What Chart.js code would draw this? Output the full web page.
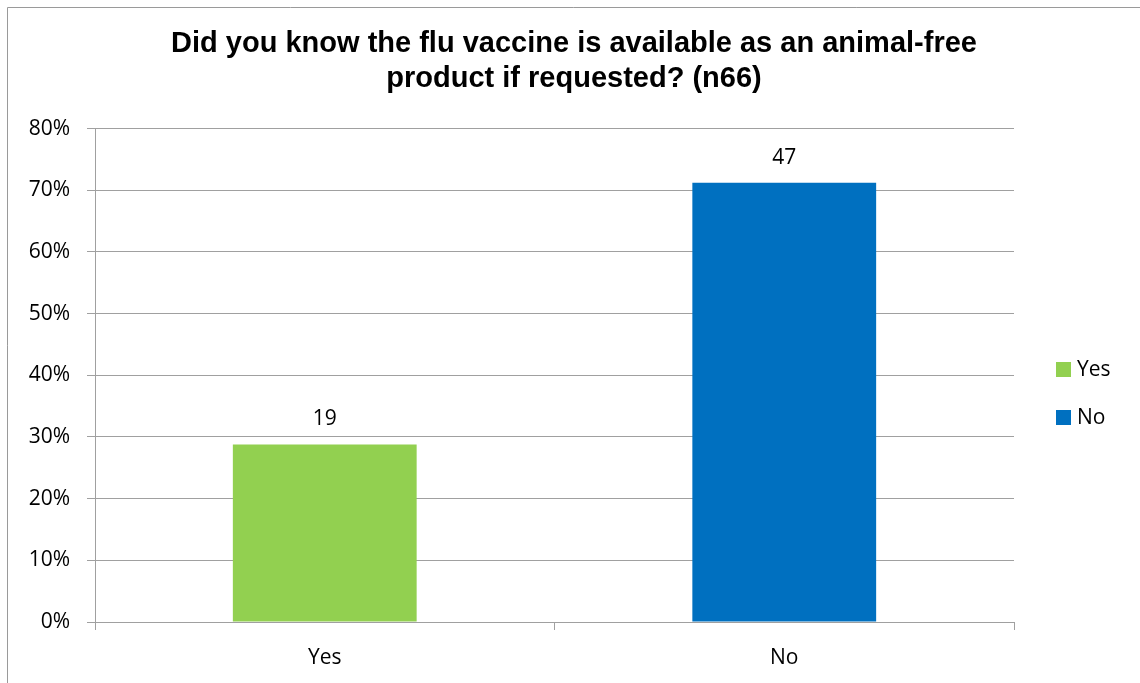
<!DOCTYPE html>
<html lang="en">
<head>
  <meta charset="UTF-8">
  <title>Flu vaccine awareness</title>
  <script src="https://cdn.jsdelivr.net/npm/chart.js@4.4.3/dist/chart.umd.min.js"></script>
  <style>
    body {
      margin: 0;
      background: #fff;
      overflow: hidden;
    }
    .chart-box {
      position: relative;
      width: 1140px;
      height: 683px;
    }
  </style>
</head>
<body>
  <div class="chart-box">
    <canvas id="fluChart"></canvas>
  </div>

  <script>
    // Survey answers (n = 66)
    const categories = ['Yes', 'No'];
    const respondents = [19, 47];
    const sharePercent = [28.8, 71.2];
    const yTicks = [0, 10, 20, 30, 40, 50, 60, 70, 80];
    const barColors = ['#92d050', '#0070c0'];

    const gridColor = '#a0a0a0';
    const labelFont = { family: 'Open Sans', size: 21 };

    // thin frame along the top and left edges
    const framePlugin = {
      id: 'frame',
      beforeDraw(chart) {
        const ctx = chart.ctx;
        ctx.save();
        ctx.strokeStyle = '#9a9a9a';
        ctx.lineWidth = 1;
        ctx.beginPath();
        ctx.moveTo(7.5, chart.height);
        ctx.lineTo(7.5, 7.5);
        ctx.lineTo(chart.width, 7.5);
        ctx.stroke();
        ctx.restore();
      }
    };

    // respondent counts above each bar
    const countLabels = {
      id: 'countLabels',
      afterDatasetsDraw(chart) {
        const ctx = chart.ctx;
        const meta = chart.getDatasetMeta(0);
        ctx.save();
        ctx.font = `${labelFont.size}px ${labelFont.family}`;
        ctx.fillStyle = '#000';
        ctx.textAlign = 'center';
        ctx.textBaseline = 'alphabetic';
        meta.data.forEach((bar, i) => {
          ctx.fillText(String(respondents[i]), bar.x, bar.y - 19);
        });
        ctx.restore();
      }
    };

    // legend keyed by category, drawn in the space kept free on the right
    const sideLegend = {
      id: 'sideLegend',
      afterDraw(chart) {
        const ctx = chart.ctx;
        const colors = chart.data.datasets[0].backgroundColor;
        const x = 1056, y = 362, box = 15, step = 48;
        ctx.save();
        ctx.font = `${labelFont.size}px ${labelFont.family}`;
        ctx.textBaseline = 'middle';
        ctx.textAlign = 'left';
        chart.data.labels.forEach((label, i) => {
          ctx.fillStyle = colors[i];
          ctx.fillRect(x, y + i * step, box, box);
          ctx.fillStyle = '#000';
          ctx.fillText(label, x + box + 6, y + i * step + box / 2 + 1);
        });
        ctx.restore();
      }
    };

    const ctxChart = document.getElementById('fluChart').getContext('2d');
    new Chart(ctxChart, {
      type: 'bar',
      data: {
        labels: categories,
        datasets: [{
          label: 'Share of respondents',
          data: sharePercent,
          backgroundColor: barColors,
          borderWidth: 0,
          barPercentage: 0.4,
          categoryPercentage: 1
        }]
      },
      options: {
        responsive: true,
        maintainAspectRatio: false,
        animation: false,
        layout: {
          padding: { left: 8, right: 0, top: 8, bottom: 0 }
        },
        scales: {
          x: {
            grid: {
              offset: true,
              drawOnChartArea: false,
              tickLength: 8,
              color: gridColor
            },
            border: { color: gridColor },
            ticks: {
              color: '#000',
              font: labelFont,
              padding: 15
            },
            afterFit(scale) {
              scale.height = 61;
            }
          },
          y: {
            min: 0,
            max: 80,
            grid: {
              color: gridColor,
              tickLength: 8
            },
            border: { color: gridColor },
            ticks: {
              color: '#000',
              font: labelFont,
              padding: 17,
              callback: v => v + '%'
            },
            afterBuildTicks(scale) {
              scale.ticks = yTicks.map(v => ({ value: v }));
            },
            afterFit(scale) {
              scale.width = 87;
            }
          },
          // empty right-hand axis: keeps room for the legend while the
          // title stays centred on the whole canvas
          legendSpace: {
            type: 'linear',
            position: 'right',
            grid: { display: false },
            border: { display: false },
            ticks: { display: false },
            afterFit(scale) {
              scale.width = 126;
            }
          }
        },
        plugins: {
          legend: { display: false },
          tooltip: { enabled: false },
          title: {
            display: true,
            text: [
              'Did you know the flu vaccine is available as an animal-free',
              'product if requested? (n66)'
            ],
            color: '#000',
            font: { family: 'Liberation Sans', size: 29, weight: 'bold', lineHeight: 1.2 },
            padding: { top: 19, bottom: 32 }
          }
        }
      },
      plugins: [framePlugin, countLabels, sideLegend]
    });
  </script>
</body>
</html>
